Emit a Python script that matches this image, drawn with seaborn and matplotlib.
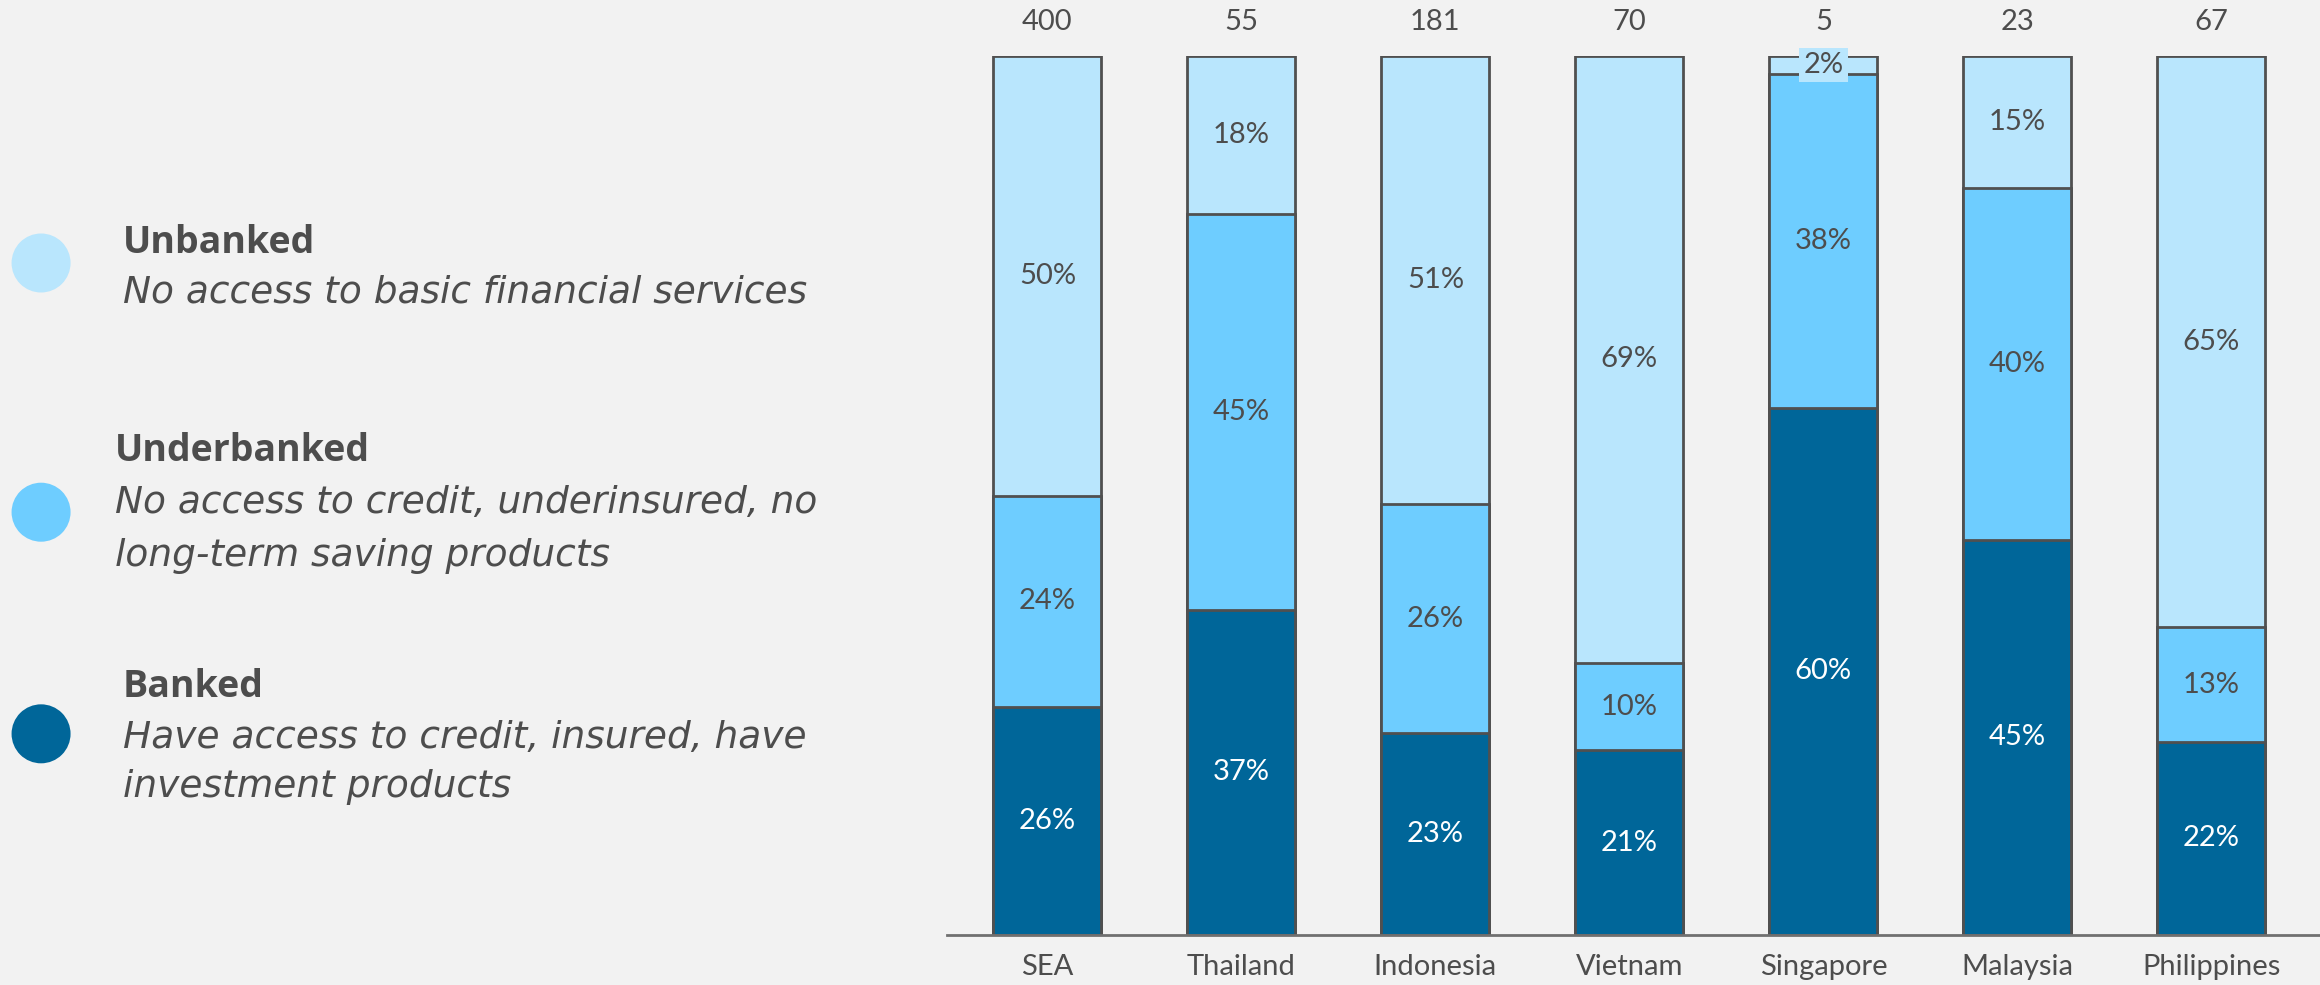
'''banking access by country, stacked bars'''

import matplotlib
matplotlib.use('Agg')
import matplotlib.pyplot as plt
from matplotlib.patches import Ellipse
import seaborn as sns
import pandas as pd

countries = ['SEA', 'Thailand', 'Indonesia', 'Vietnam', 'Singapore', 'Malaysia', 'Philippines']
totals = [400, 55, 181, 70, 5, 23, 67]
banked = [26, 37, 23, 21, 60, 45, 22]
underbanked = [24, 45, 26, 10, 38, 40, 13]
unbanked = [50, 18, 51, 69, 2, 15, 65]

legend_titles = ['Unbanked', 'Underbanked', 'Banked']
legend_texts = ['No access to basic financial services',
                'No access to credit, underinsured, no\nlong-term saving products',
                'Have access to credit, insured, have\ninvestment products']

BG = '#f2f2f2'
C_UN = '#b9e6fd'
C_UNDER = '#6ecdff'
C_BANK = '#006699'
EDGE = '#505050'
TXT = '#4d4d4d'

df = pd.DataFrame({'country': countries, 'banked': banked,
                   'underbanked': underbanked, 'unbanked': unbanked})
df['mid'] = df['banked'] + df['underbanked']
df['top'] = df['mid'] + df['unbanked']

sns.set_style('white')
plt.rcParams['font.family'] = ['Lato', 'DejaVu Sans']

fig = plt.figure(figsize=(23.2, 9.85), dpi=100, facecolor=BG)
ax = fig.add_axes([0.408, 0.0508, 0.592, 0.892])
ax.set_facecolor(BG)

# stack by overdrawing the cumulative heights
for col, c in [('top', C_UN), ('mid', C_UNDER), ('banked', C_BANK)]:
    sns.barplot(data=df, x='country', y=col, color=c, saturation=1, width=0.557,
                edgecolor=EDGE, linewidth=2, errorbar=None, ax=ax)

for i in range(len(countries)):
    b, u, n = banked[i], underbanked[i], unbanked[i]
    ax.text(i, b / 2, f'{b}%', ha='center', va='center', fontsize=21, color='white')
    ax.text(i, b + u / 2, f'{u}%', ha='center', va='center', fontsize=21, color=TXT)
    if n < 5:
        ax.text(i, b + u + n / 2, f'{n}%', ha='center', va='center', fontsize=21,
                color=TXT, bbox=dict(facecolor=C_UN, edgecolor='none', pad=3))
    else:
        ax.text(i, b + u + n / 2, f'{n}%', ha='center', va='center', fontsize=21, color=TXT)
    ax.text(i, 103.9, str(totals[i]), ha='center', va='center', fontsize=21,
            color=TXT, clip_on=False)

ax.set_ylim(0, 100)
ax.set_xlim(-0.52, 6.56)
ax.set_xlabel('')
ax.set_ylabel('')
ax.set_yticks([])
ax.tick_params(axis='x', length=0, pad=14, labelsize=21, labelcolor=TXT)
for s in ['top', 'right', 'left']:
    ax.spines[s].set_visible(False)
ax.spines['bottom'].set_color('#707070')
ax.spines['bottom'].set_linewidth(2)

# legend on the left
leg = [
    (0.053, 0.753, [0.703], 0.733, C_UN),
    (0.0496, 0.542, [0.489, 0.436], 0.480, C_UNDER),
    (0.053, 0.303, [0.251, 0.201], 0.255, C_BANK),
]
for (x, ty, ly, cy, c), title, txt in zip(leg, legend_titles, legend_texts):
    fig.text(x, ty, title, fontsize=27, fontweight='bold', color=TXT, va='center',
             family=['Open Sans', 'DejaVu Sans'])
    for y, line in zip(ly, txt.split('\n')):
        fig.text(x, y, line, fontsize=27, fontstyle='italic', color=TXT, va='center',
                 family=['DejaVu Sans'])
    fig.add_artist(Ellipse((0.0177, cy), 59 / 2320, 59 / 985, transform=fig.transFigure,
                           facecolor=c, edgecolor='none'))

fig.savefig('out.png', dpi=100, facecolor=BG)
